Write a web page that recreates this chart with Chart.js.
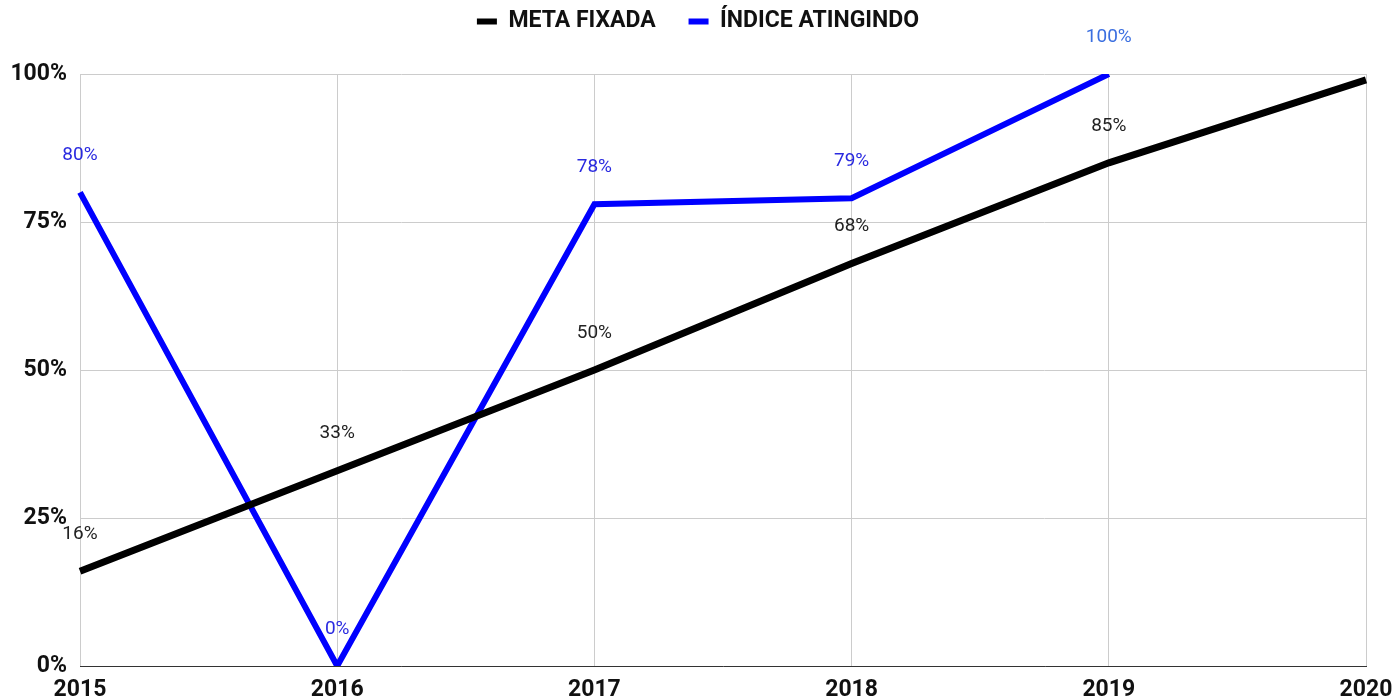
<!DOCTYPE html>
<html lang="pt">
<head>
    <meta charset="UTF-8">
    <title>Meta x Índice</title>
    <script src="https://cdn.jsdelivr.net/npm/chart.js"></script>
    <style>
        body { margin: 0; background: #fff; }
        #wrap { width: 1396px; height: 699px; }
    </style>
</head>
<body>
    <div id="wrap"><canvas id="chart"></canvas></div>
    <script>
        // dados
        const years = ["2015", "2016", "2017", "2018", "2019", "2020"];
        const metaFixada = [16, 33, 50, 68, 85, 99];
        const indiceAtingido = [80, 0, 78, 79, 100, null];
        const metaLabels = ["16%", "33%", "50%", "68%", "85%", ""];
        const indiceLabels = ["80%", "0%", "78%", "79%", "100%", ""];
        const yTicks = [0, 25, 50, 75, 100];

        // rótulos de valor desenhados acima de cada ponto
        const valueLabels = {
            id: "valueLabels",
            beforeLayout(chart) {
                // legenda mais alta para empurrar a área do gráfico para baixo
                const lg = chart.legend;
                if (lg && !lg._fixed) {
                    const fit = lg.fit.bind(lg);
                    lg.fit = function () { fit(); this.height = 74; };
                    lg._fixed = true;
                }
            },
            afterDatasetsDraw(chart) {
                const ctx = chart.ctx;
                ctx.save();
                ctx.font = "19px Roboto";
                ctx.textAlign = "center";
                ctx.textBaseline = "middle";
                chart.data.datasets.forEach((ds, i) => {
                    const meta = chart.getDatasetMeta(i);
                    meta.data.forEach((pt, j) => {
                        const txt = ds.valueText[j];
                        if (!txt || ds.data[j] === null) return;
                        ctx.fillStyle = (i === 1 && j === 4) ? "#3b6fe0" : ds.labelColor;
                        ctx.fillText(txt, pt.x, pt.y - 37);
                    });
                });
                ctx.restore();
            }
        };

        const ctx = document.getElementById("chart").getContext("2d");
        new Chart(ctx, {
            type: "line",
            data: {
                labels: years,
                datasets: [
                    {
                        label: "META FIXADA",
                        data: metaFixada,
                        valueText: metaLabels,
                        labelColor: "#222222",
                        borderColor: "#000000",
                        backgroundColor: "#000000",
                        borderWidth: 7,
                        pointRadius: 0,
                        tension: 0
                    },
                    {
                        label: "ÍNDICE ATINGINDO",
                        data: indiceAtingido,
                        valueText: indiceLabels,
                        labelColor: "#2a2ae0",
                        borderColor: "#0000ff",
                        backgroundColor: "#0000ff",
                        borderWidth: 6,
                        pointRadius: 0,
                        tension: 0
                    }
                ]
            },
            options: {
                responsive: true,
                maintainAspectRatio: false,
                animation: false,
                layout: { padding: { left: 0, right: 0, top: 0, bottom: 0 } },
                plugins: {
                    tooltip: { enabled: false },
                    legend: {
                        position: "top",
                        labels: {
                            boxWidth: 20,
                            boxHeight: 6,
                            padding: 10,
                            color: "#111",
                            font: { family: "Roboto", size: 23, weight: "bold" },
                            generateLabels(chart) {
                                const items = Chart.defaults.plugins.legend.labels.generateLabels(chart);
                                items.forEach(it => { it.lineWidth = 0; });
                                // espaço extra entre os dois itens
                                items[0].text += "    ";
                                return items;
                            }
                        }
                    }
                },
                scales: {
                    x: {
                        offset: false,
                        grid: { color: "#cccccc", drawTicks: false },
                        border: { color: "#333333", display: true },
                        ticks: {
                            color: "#111",
                            padding: 10,
                            maxRotation: 0,
                            font: { family: "Roboto", size: 23, weight: "bold" }
                        },
                        afterFit(scale) {
                            scale.height = 33;
                            scale.paddingLeft = 0;
                            scale.paddingRight = 30;
                        }
                    },
                    y: {
                        min: 0,
                        max: 100,
                        afterBuildTicks(scale) {
                            scale.ticks = yTicks.map(v => ({ value: v }));
                        },
                        grid: { color: "#cccccc", drawTicks: false },
                        border: { display: false },
                        ticks: {
                            color: "#111",
                            padding: 13,
                            callback: v => v + "%",
                            font: { family: "Roboto", size: 23, weight: "bold" }
                        },
                        afterFit(scale) { scale.width = 80; }
                    }
                }
            },
            plugins: [valueLabels]
        });
    </script>
</body>
</html>
